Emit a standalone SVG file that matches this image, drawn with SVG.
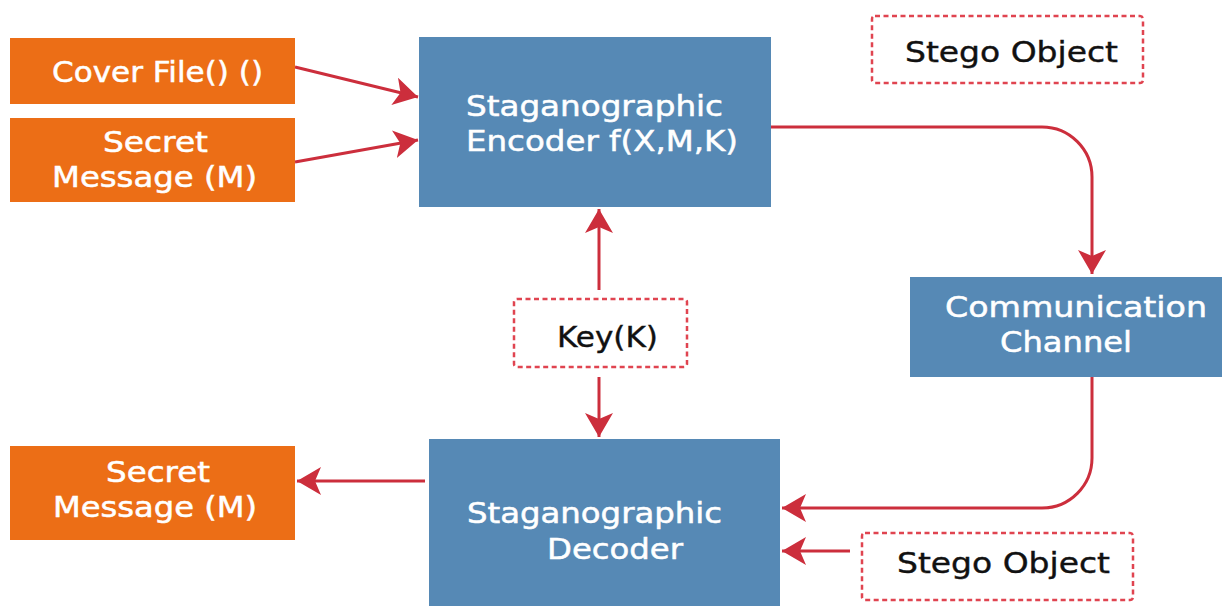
<svg xmlns="http://www.w3.org/2000/svg" width="1222" height="606" viewBox="0 0 1222 606">
<defs>
<style>
.orange{fill:#EC6E16;}
.blue{fill:#5689B5;}
.dash{fill:#ffffff;stroke:#E04450;stroke-width:2.5;stroke-dasharray:5 3.5;}
.wt{fill:#ffffff;stroke:#ffffff;stroke-width:0.5;font-family:"DejaVu Sans","Liberation Sans",sans-serif;font-size:28px;}
.bt{fill:#111111;stroke:#111111;stroke-width:0.4;font-family:"DejaVu Sans","Liberation Sans",sans-serif;font-size:28px;}
.conn{fill:none;stroke:#CC2E3C;stroke-width:3;marker-end:url(#ah);}
</style>
<marker id="ah" markerUnits="userSpaceOnUse" viewBox="0 0 24 28" refX="24" refY="14" markerWidth="24" markerHeight="28" orient="auto">
<path d="M0,0 L24,14 L0,28 L6,14 Z" fill="#CC2E3C"/>
</marker>
</defs>
<rect width="1222" height="606" fill="#ffffff"/>

<g id="connectors">
<path class="conn" d="M295,67 L418,97"/>
<path class="conn" d="M295,162 L418,140"/>
<path class="conn" d="M770,127 H1042 A50,50 0 0 1 1092,177 V274"/>
<path class="conn" d="M1092,377 V458 A50,50 0 0 1 1042,508 H782"/>
<path class="conn" d="M599,290 V209"/>
<path class="conn" d="M599,377 V437"/>
<path class="conn" d="M850,551 H782"/>
<path class="conn" d="M425,481 H297"/>
</g>

<g id="cover-file">
<rect class="orange" x="10" y="38" width="285" height="66"/>
<text class="wt" x="52" y="82" textLength="211" lengthAdjust="spacingAndGlyphs">Cover File() ()</text>
</g>

<g id="secret-message-in">
<rect class="orange" x="10" y="118" width="285" height="84"/>
<text class="wt" x="103" y="152" textLength="105" lengthAdjust="spacingAndGlyphs">Secret</text>
<text class="wt" x="52" y="187" textLength="205" lengthAdjust="spacingAndGlyphs">Message (M)</text>
</g>

<g id="encoder">
<rect class="blue" x="419" y="37" width="352" height="170"/>
<text class="wt" x="466" y="116" textLength="257" lengthAdjust="spacingAndGlyphs">Staganographic</text>
<text class="wt" x="466" y="151" textLength="272" lengthAdjust="spacingAndGlyphs">Encoder f(X,M,K)</text>
</g>

<g id="stego-object-top">
<rect class="dash" x="872" y="16" width="271" height="67" rx="3"/>
<text class="bt" x="905" y="62" textLength="213" lengthAdjust="spacingAndGlyphs">Stego Object</text>
</g>

<g id="key">
<rect class="dash" x="514" y="299" width="173" height="68" rx="3"/>
<text class="bt" x="557" y="347" textLength="101" lengthAdjust="spacingAndGlyphs">Key(K)</text>
</g>

<g id="channel">
<rect class="blue" x="910" y="277" width="320" height="100"/>
<text class="wt" x="945" y="317" textLength="262" lengthAdjust="spacingAndGlyphs">Communication</text>
<text class="wt" x="1000" y="352" textLength="132" lengthAdjust="spacingAndGlyphs">Channel</text>
</g>

<g id="decoder">
<rect class="blue" x="429" y="439" width="351" height="175"/>
<text class="wt" x="467" y="523" textLength="255" lengthAdjust="spacingAndGlyphs">Staganographic</text>
<text class="wt" x="547" y="559" textLength="136" lengthAdjust="spacingAndGlyphs">Decoder</text>
</g>

<g id="stego-object-bottom">
<rect class="dash" x="862" y="533" width="271" height="67" rx="3"/>
<text class="bt" x="897" y="573" textLength="213" lengthAdjust="spacingAndGlyphs">Stego Object</text>
</g>

<g id="secret-message-out">
<rect class="orange" x="10" y="446" width="285" height="94"/>
<text class="wt" x="106" y="482" textLength="104" lengthAdjust="spacingAndGlyphs">Secret</text>
<text class="wt" x="53" y="517" textLength="204" lengthAdjust="spacingAndGlyphs">Message (M)</text>
</g>
</svg>
